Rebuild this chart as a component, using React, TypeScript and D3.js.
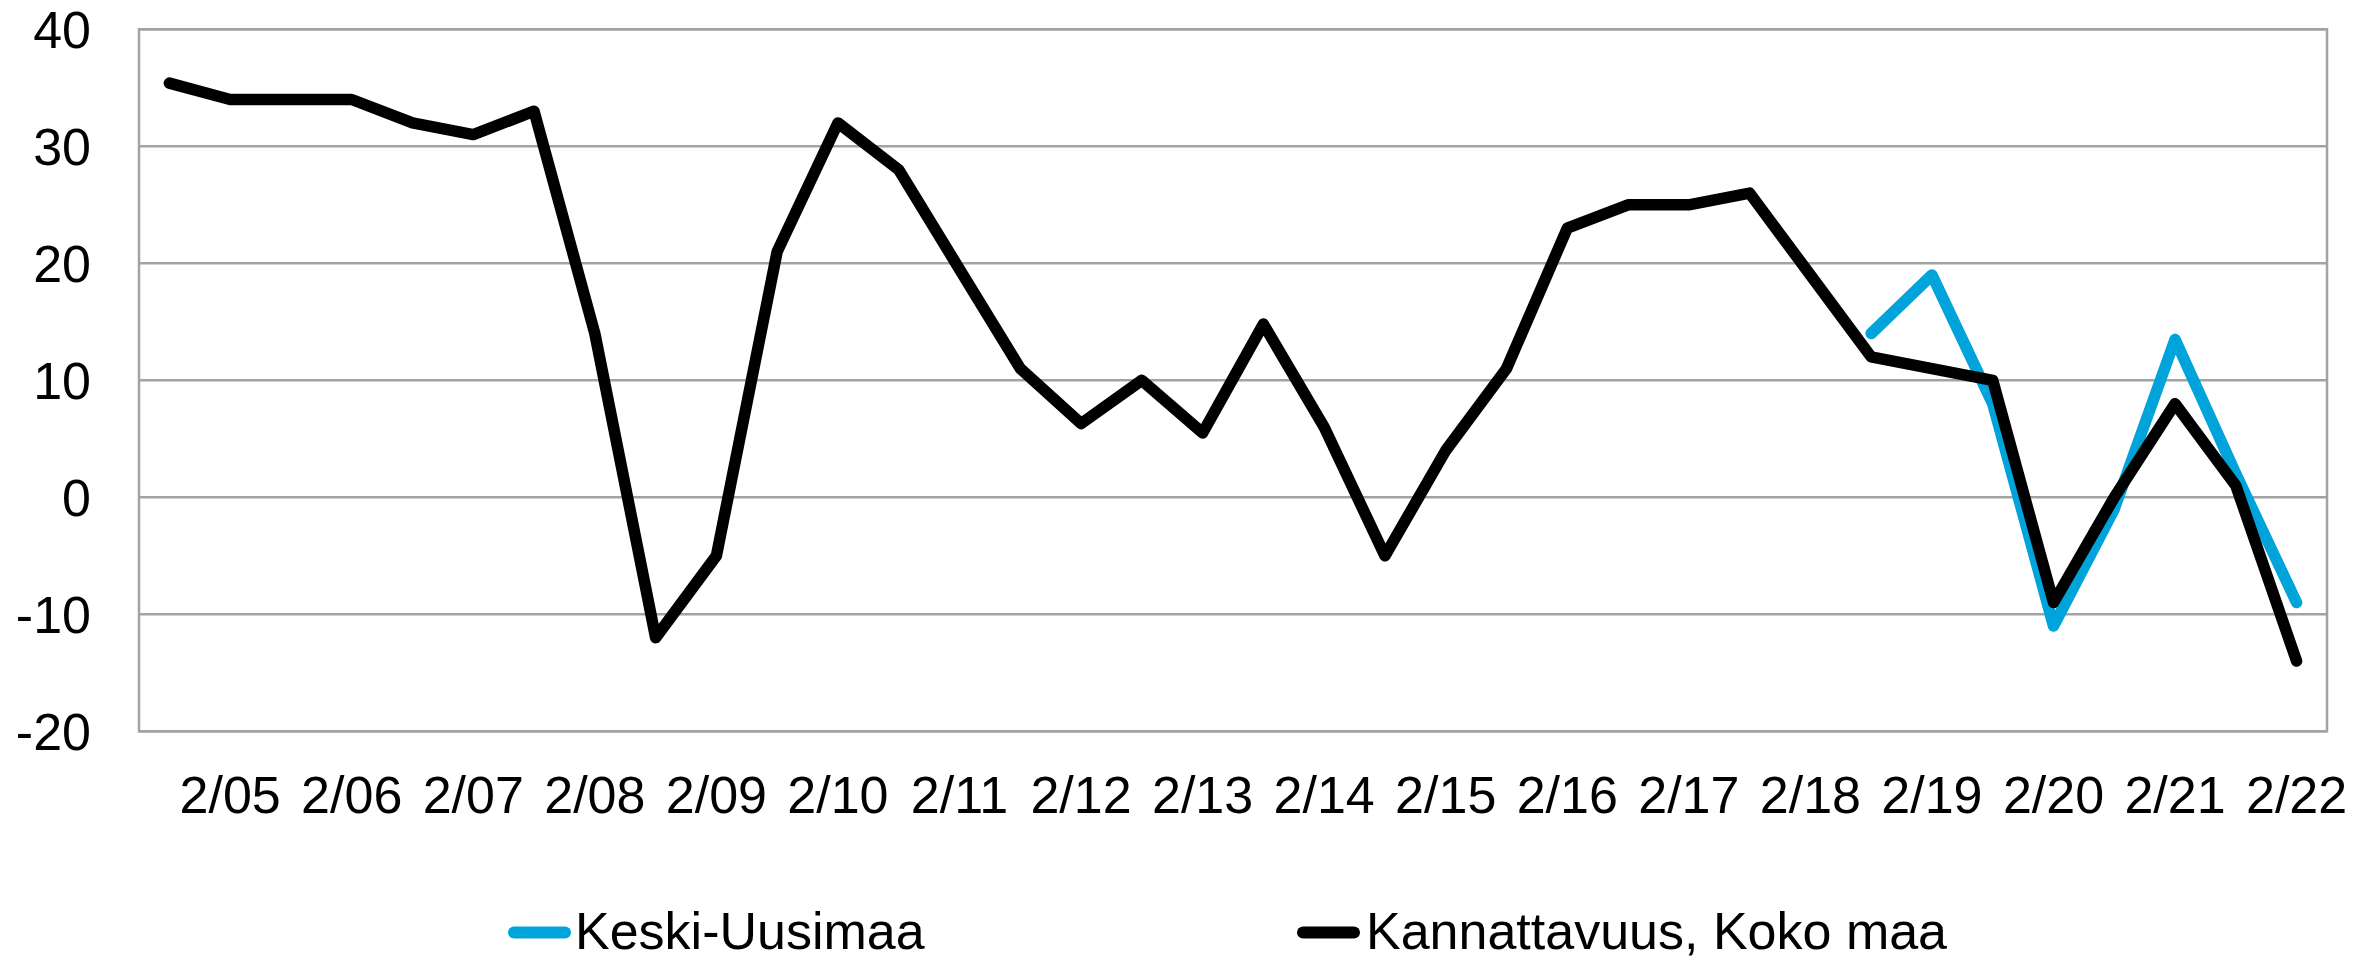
import * as d3 from "d3";

const periods = [
  "1/05", "2/05", "1/06", "2/06", "1/07", "2/07", "1/08", "2/08", "1/09", "2/09",
  "1/10", "2/10", "1/11", "2/11", "1/12", "2/12", "1/13", "2/13", "1/14", "2/14",
  "1/15", "2/15", "1/16", "2/16", "1/17", "2/17", "1/18", "2/18", "1/19", "2/19",
  "1/20", "2/20", "1/21", "2/21", "1/22", "2/22",
];

const kokoMaa = [
  35.4, 34, 34, 34, 32, 31, 33, 14, -12, -5,
  21, 32, 28, 19.5, 11, 6.3, 10, 5.5, 14.8, 6,
  -5, 4, 11, 23, 25, 25, 26, 19, 12, 11,
  10, -9, 0, 8, 1, -14,
];

const keskiUusimaa: (number | null)[] = [
  null, null, null, null, null, null, null, null, null, null,
  null, null, null, null, null, null, null, null, null, null,
  null, null, null, null, null, null, null, null, 14, 19,
  8, -11, -1, 13.5, 2, -9,
];

const yTicks = [-20, -10, 0, 10, 20, 30, 40];

const seriesNames = ["Keski-Uusimaa", "Kannattavuus, Koko maa"];
const seriesColors = ["#00A3DA", "#000000"];

const W = 2379;
const H = 960;
const margin = { left: 139, right: 2327, top: 29.3, bottom: 731.3 };
const font = "'Liberation Sans', Arial, sans-serif";
const gridColor = "#a3a3a3";

export default function App() {
  const x = d3.scaleBand<string>().domain(periods).range([margin.left, margin.right]).padding(0);
  const y = d3.scaleLinear().domain([-20, 40]).range([margin.bottom, margin.top]);
  const cx = (p: string) => (x(p) as number) + x.bandwidth() / 2;

  const line = d3
    .line<number | null>()
    .defined((d) => d !== null)
    .x((_, i) => cx(periods[i]))
    .y((d) => y(d as number));

  const legendItems = [
    { name: seriesNames[0], color: seriesColors[0], x0: 508, x1: 571, tx: 575 },
    { name: seriesNames[1], color: seriesColors[1], x0: 1297, x1: 1360, tx: 1366 },
  ];

  return (
    <svg
      width={W}
      height={H}
      style={{ position: "absolute", left: 0, top: 0, background: "#fff" }}
      fontFamily={font}
    >
      {/* gridlines */}
      {yTicks.map((t) => (
        <line
          key={t}
          x1={margin.left}
          x2={margin.right}
          y1={y(t)}
          y2={y(t)}
          stroke={gridColor}
          strokeWidth={2.5}
        />
      ))}
      <rect
        x={margin.left}
        y={margin.top}
        width={margin.right - margin.left}
        height={margin.bottom - margin.top}
        fill="none"
        stroke={gridColor}
        strokeWidth={2.5}
      />

      {/* y labels */}
      {yTicks.map((t) => (
        <text key={t} x={91} y={y(t)} dy="0.36em" textAnchor="end" fontSize={52} fill="#000">
          {t}
        </text>
      ))}

      {/* x labels, every second period */}
      {periods.map((p, i) =>
        i % 2 === 1 ? (
          <text key={p} x={cx(p)} y={812.5} textAnchor="middle" fontSize={52} fill="#000">
            {p}
          </text>
        ) : null
      )}

      {/* series */}
      <path
        d={line(keskiUusimaa) ?? ""}
        fill="none"
        stroke={seriesColors[0]}
        strokeWidth={11.5}
        strokeLinejoin="round"
        strokeLinecap="round"
      />
      <path
        d={line(kokoMaa) ?? ""}
        fill="none"
        stroke={seriesColors[1]}
        strokeWidth={11.5}
        strokeLinejoin="round"
        strokeLinecap="round"
      />

      {/* legend */}
      {legendItems.map((d) => (
        <g key={d.name}>
          <line
            x1={d.x0 + 6}
            x2={d.x1 - 6}
            y1={932.5}
            y2={932.5}
            stroke={d.color}
            strokeWidth={12}
            strokeLinecap="round"
          />
          <text x={d.tx} y={949} fontSize={52} fill="#000">
            {d.name}
          </text>
        </g>
      ))}
    </svg>
  );
}
